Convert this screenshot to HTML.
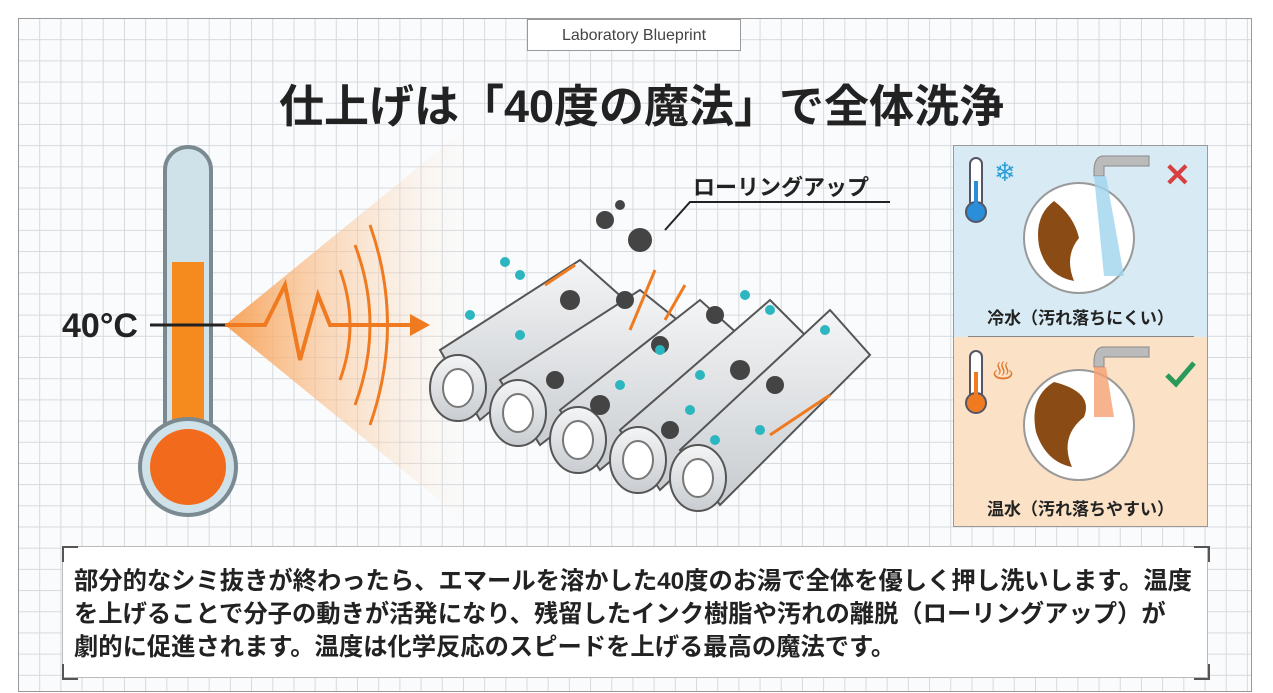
<!DOCTYPE html>
<html><head><meta charset="utf-8"><style>
body{margin:0;width:1273px;height:693px;background:#fff;overflow:hidden;position:relative;font-family:"Liberation Sans","Noto Sans CJK JP",sans-serif;}
.frame{position:absolute;left:18px;top:18px;width:1232px;height:672px;border:1px solid #999;
background-color:#fafbfc;background-image:linear-gradient(#d6d9de 1px,transparent 1px),linear-gradient(90deg,#d6d9de 1px,transparent 1px);background-size:21.2px 21.2px;background-position:-1px -1px;}
.tag{position:absolute;left:527px;top:19px;width:214px;height:32px;border:1px solid #999;background:#fff;font-size:16px;color:#444;text-align:center;line-height:32px;box-sizing:border-box}
.title{position:absolute;left:0;width:1283px;top:70px;text-align:center;font-size:45px;font-weight:bold;color:#222;}
.box{position:absolute;left:62px;top:546px;width:1146px;height:132px;background:#fff;border:1px solid #bbb;box-sizing:border-box;}
.box p{margin:18px 0 0 11px;font-size:24.3px;font-weight:bold;line-height:33px;color:#222;white-space:nowrap}
.c{position:absolute;width:14px;height:14px;border-color:#555;border-style:solid;border-width:0}
.panel{position:absolute;left:953px;width:255px;box-sizing:border-box;border:1px solid #999}
.lab{position:absolute;width:100%;text-align:center;font-size:17px;font-weight:bold;color:#222}
</style></head><body>
<div class="frame"></div>
<div class="tag">Laboratory Blueprint</div>
<div class="title">仕上げは「40度の魔法」で全体洗浄</div>
<svg style="position:absolute;left:0;top:0" width="1273" height="693">
<defs>
<linearGradient id="cone" x1="0" x2="1"><stop offset="0" stop-color="#f7a35a"/><stop offset="1" stop-color="#fde6cf" stop-opacity="0"/></linearGradient>
<linearGradient id="cyl" x1="0" y1="0" x2="0" y2="1"><stop offset="0" stop-color="#f4f5f6"/><stop offset="1" stop-color="#c8ccd0"/></linearGradient>
</defs>
<polygon points="225,325 470,125 470,525" fill="url(#cone)"/>
<rect x="165" y="147" width="46" height="320" rx="23" fill="#cfe2ea" stroke="#7a8a90" stroke-width="4"/>
<rect x="172" y="262" width="32" height="210" fill="#f58a1f"/>
<circle cx="188" cy="467" r="48" fill="#cfe2ea" stroke="#7a8a90" stroke-width="4"/>
<circle cx="188" cy="467" r="38" fill="#f26a1b"/>
<text x="62" y="337" font-size="34" font-weight="bold" fill="#222" font-family="Liberation Sans">40°C</text>
<line x1="150" y1="325" x2="235" y2="325" stroke="#222" stroke-width="3"/>
<polyline points="225,325 265,325 285,285 300,360 318,295 330,325 410,325" fill="none" stroke="#f07a20" stroke-width="4"/>
<polygon points="410,314 430,325 410,336" fill="#f07a20"/>
<g fill="none" stroke="#f07a20" stroke-width="3">
<path d="M340,270 Q360,325 340,380"/><path d="M355,245 Q385,325 355,405"/><path d="M370,225 Q405,325 370,425"/>
</g>
<g stroke="#555" stroke-width="2" fill="url(#cyl)">
<path d="M440,350 L580,260 L625,300 L480,420 Z"/>
<path d="M500,380 L640,290 L690,330 L540,445 Z"/>
<path d="M560,410 L700,300 L750,345 L600,470 Z"/>
<path d="M620,430 L770,300 L815,345 L660,490 Z"/>
<path d="M680,450 L830,310 L870,355 L720,505 Z"/>
<ellipse cx="458" cy="388" rx="28" ry="33"/><ellipse cx="518" cy="413" rx="28" ry="33"/><ellipse cx="578" cy="440" rx="28" ry="33"/><ellipse cx="638" cy="460" rx="28" ry="33"/><ellipse cx="698" cy="478" rx="28" ry="33"/>
</g>
<g fill="#fff" stroke="#777" stroke-width="2">
<ellipse cx="458" cy="388" rx="15" ry="19"/><ellipse cx="518" cy="413" rx="15" ry="19"/><ellipse cx="578" cy="440" rx="15" ry="19"/><ellipse cx="638" cy="460" rx="15" ry="19"/><ellipse cx="698" cy="478" rx="15" ry="19"/>
</g>
<g fill="#444">
<circle cx="570" cy="300" r="10"/><circle cx="625" cy="300" r="9"/><circle cx="555" cy="380" r="9"/><circle cx="600" cy="405" r="10"/><circle cx="660" cy="345" r="9"/><circle cx="715" cy="315" r="9"/><circle cx="740" cy="370" r="10"/><circle cx="775" cy="385" r="9"/><circle cx="670" cy="430" r="9"/><circle cx="605" cy="220" r="9"/><circle cx="640" cy="240" r="12"/><circle cx="620" cy="205" r="5"/>
</g>
<g fill="#2bb6c0"><circle cx="505" cy="262" r="5"/><circle cx="520" cy="275" r="5"/><circle cx="470" cy="315" r="5"/><circle cx="520" cy="335" r="5"/><circle cx="660" cy="350" r="5"/><circle cx="700" cy="375" r="5"/><circle cx="745" cy="295" r="5"/><circle cx="770" cy="310" r="5"/><circle cx="825" cy="330" r="5"/><circle cx="690" cy="410" r="5"/><circle cx="760" cy="430" r="5"/><circle cx="715" cy="440" r="5"/><circle cx="620" cy="385" r="5"/></g>
<g fill="none" stroke="#f07a20" stroke-width="3"><path d="M630,330 L655,270"/><path d="M665,320 L685,285"/><path d="M770,435 L830,395"/><path d="M545,285 L575,265"/></g>
<text x="693" y="195" font-size="22" font-weight="bold" fill="#222" font-family="Liberation Sans,Noto Sans CJK JP">ローリングアップ</text>
<polyline points="890,202 690,202 665,230" fill="none" stroke="#222" stroke-width="2"/>
</svg>
<div class="panel" style="top:145px;height:192px;background:#d8eaf3;border-bottom:none">
<svg width="253" height="190" style="position:absolute;left:0;top:0">
<rect x="16" y="12" width="12" height="50" rx="6" fill="#fff" stroke="#556" stroke-width="2"/><circle cx="22" cy="66" r="10" fill="#2a8fd8" stroke="#556" stroke-width="2"/><rect x="20" y="35" width="4" height="28" fill="#2a8fd8"/>
<text x="40" y="35" font-size="26" fill="#2a9fd8">❄</text>
<circle cx="125" cy="92" r="55" fill="#fff" stroke="#999" stroke-width="2"/>
<path d="M100,55 Q80,70 85,100 Q92,130 120,135 Q110,110 125,92 Q120,70 100,55Z" fill="#8b4b14"/>
<path d="M150,20 L195,20 L195,10 L148,10 Q140,12 140,25 L140,30 L150,30Z" fill="#bbb" stroke="#888"/>
<path d="M140,30 L152,30 L170,130 L150,130Z" fill="#9fd4ee" opacity=".8"/>
<text x="210" y="40" font-size="32" fill="#d64040" font-weight="bold">✕</text>
</svg>
<div class="lab" style="top:158px">冷水（汚れ落ちにくい）</div>
</div>
<div style="position:absolute;left:968px;top:336px;width:226px;height:1px;background:#888"></div>
<div class="panel" style="top:337px;height:190px;background:#fbe1c6;border-top:none">
<svg width="253" height="190" style="position:absolute;left:0;top:0">
<rect x="16" y="14" width="12" height="50" rx="6" fill="#fff" stroke="#556" stroke-width="2"/><circle cx="22" cy="66" r="10" fill="#f07a20" stroke="#556" stroke-width="2"/><rect x="20" y="35" width="4" height="28" fill="#f07a20"/>
<text x="38" y="42" font-size="22" fill="#e07a30">♨</text>
<circle cx="125" cy="88" r="55" fill="#fff" stroke="#999" stroke-width="2"/>
<path d="M100,45 Q75,60 82,95 Q92,125 118,130 Q105,100 130,80 Q140,55 100,45Z" fill="#8b4b14"/>
<path d="M150,20 L195,20 L195,10 L148,10 Q140,12 140,25 L140,30 L150,30Z" fill="#bbb" stroke="#888"/>
<path d="M140,30 L152,30 L160,80 L140,80Z" fill="#f5a070" opacity=".8"/>
<path d="M213,38 L222,47 L240,26" fill="none" stroke="#2a9a5a" stroke-width="5"/>
</svg>
<div class="lab" style="top:158px">温水（汚れ落ちやすい）</div>
</div>
<div class="box"><p>部分的なシミ抜きが終わったら、エマールを溶かした40度のお湯で全体を優しく押し洗いします。温度<br>を上げることで分子の動きが活発になり、残留したインク樹脂や汚れの離脱（ローリングアップ）が<br>劇的に促進されます。温度は化学反応のスピードを上げる最高の魔法です。</p></div>
<div class="c" style="left:62px;top:546px;border-left-width:2px;border-top-width:2px"></div>
<div class="c" style="left:1194px;top:546px;border-right-width:2px;border-top-width:2px"></div>
<div class="c" style="left:62px;top:664px;border-left-width:2px;border-bottom-width:2px"></div>
<div class="c" style="left:1194px;top:664px;border-right-width:2px;border-bottom-width:2px"></div>
</body></html>
